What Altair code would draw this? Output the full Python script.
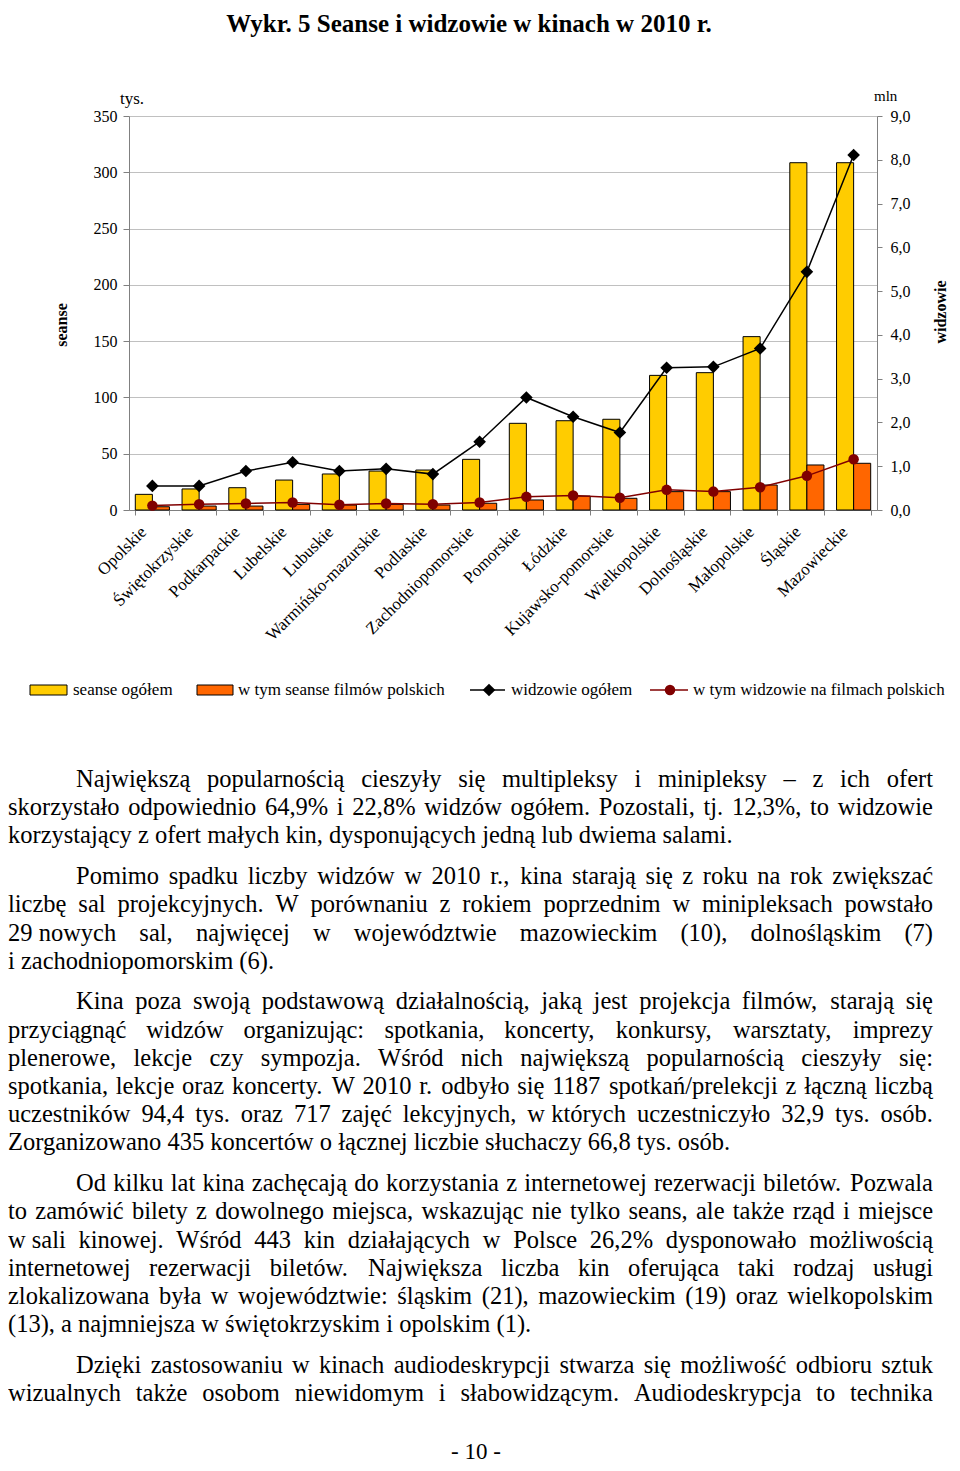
import altair as alt
import pandas as pd

# ---------------- data ----------------
regions = ["Opolskie", "Świętokrzyskie", "Podkarpackie", "Lubelskie", "Lubuskie",
           "Warmińsko-mazurskie", "Podlaskie", "Zachodniopomorskie", "Pomorskie",
           "Łódzkie", "Kujawsko-pomorskie", "Wielkopolskie", "Dolnośląskie",
           "Małopolskie", "Śląskie", "Mazowieckie"]
seanse_ogolem = [13.9, 18.7, 19.8, 26.6, 32.0, 34.6, 35.5, 45.0, 77.0,
                 79.3, 80.6, 119.6, 122.0, 154.0, 308.5, 308.5]
seanse_polskie = [2.9, 3.5, 3.5, 5.0, 4.4, 5.0, 4.4, 6.0, 8.9,
                  12.4, 10.4, 16.3, 16.3, 22.2, 40.0, 41.5]
widzowie_ogolem = [0.55, 0.55, 0.89, 1.09, 0.89, 0.94, 0.82, 1.56, 2.57,
                   2.13, 1.77, 3.25, 3.27, 3.69, 5.44, 8.11]
widzowie_polskie = [0.10, 0.13, 0.15, 0.17, 0.12, 0.15, 0.13, 0.17, 0.30,
                    0.33, 0.28, 0.46, 0.42, 0.52, 0.78, 1.16]

bar_series = ["seanse ogółem", "w tym seanse filmów polskich"]
line_series = ["widzowie ogółem", "w tym widzowie na filmach polskich"]
left_ticks = [0, 50, 100, 150, 200, 250, 300, 350]
right_ticks = [0, 1, 2, 3, 4, 5, 6, 7, 8, 9]

NB = "\u00a0"
title_text = "Wykr. 5 Seanse i widzowie w kinach  w 2010 r."
paragraphs = [
    ["Największą popularnością cieszyły się multipleksy i minipleksy – z ich ofert",
     "skorzystało odpowiednio 64,9% i 22,8% widzów ogółem. Pozostali, tj. 12,3%, to widzowie",
     "korzystający z ofert małych kin, dysponujących jedną lub dwiema salami."],
    ["Pomimo spadku liczby widzów w 2010 r., kina starają się z roku na rok zwiększać",
     "liczbę sal projekcyjnych. W porównaniu z rokiem poprzednim w minipleksach powstało",
     "29" + NB + "nowych sal, najwięcej w województwie mazowieckim (10), dolnośląskim (7)",
     "i zachodniopomorskim (6)."],
    ["Kina poza swoją podstawową działalnością, jaką jest projekcja filmów, starają się",
     "przyciągnąć widzów organizując: spotkania, koncerty, konkursy, warsztaty, imprezy",
     "plenerowe, lekcje czy sympozja. Wśród nich największą popularnością cieszyły się:",
     "spotkania, lekcje oraz koncerty. W 2010 r. odbyło się 1187 spotkań/prelekcji z łączną liczbą",
     "uczestników 94,4 tys. oraz 717 zajęć lekcyjnych, w" + NB + "których uczestniczyło 32,9 tys. osób.",
     "Zorganizowano 435 koncertów o łącznej liczbie słuchaczy 66,8 tys. osób."],
    ["Od kilku lat kina zachęcają do korzystania z internetowej rezerwacji biletów. Pozwala",
     "to zamówić bilety z dowolnego miejsca, wskazując nie tylko seans, ale także rząd i miejsce",
     "w" + NB + "sali kinowej. Wśród 443 kin działających w Polsce 26,2% dysponowało możliwością",
     "internetowej rezerwacji biletów. Największa liczba kin oferująca taki rodzaj usługi",
     "zlokalizowana była w województwie: śląskim (21), mazowieckim (19) oraz wielkopolskim",
     "(13), a najmniejsza w świętokrzyskim i opolskim (1)."],
    ["Dzięki zastosowaniu w kinach audiodeskrypcji stwarza się możliwość odbioru sztuk",
     "wizualnych także osobom niewidomym i słabowidzącym. Audiodeskrypcja to technika"],
]
page_number = "- 10 -"

# ---------------- tables ----------------
bars_df = pd.DataFrame({
    "region": regions * 2,
    "series": [bar_series[0]] * len(regions) + [bar_series[1]] * len(regions),
    "value": seanse_ogolem + seanse_polskie,
})
lines_df = pd.DataFrame({
    "region": regions * 2,
    "series": [line_series[0]] * len(regions) + [line_series[1]] * len(regions),
    "value": widzowie_ogolem + widzowie_polskie,
})

# Times / Liberation Serif advance widths (per 1000 em) for justified text layout
ADV = {" ": 250, NB: 250, "a": 444, "b": 500, "c": 444, "d": 500, "e": 444, "f": 333,
       "g": 500, "h": 500, "i": 278, "j": 278, "k": 500, "l": 278, "m": 778, "n": 500,
       "o": 500, "p": 500, "q": 500, "r": 333, "s": 389, "t": 278, "u": 500, "v": 500,
       "w": 722, "x": 500, "y": 500, "z": 444, "ą": 444, "ę": 444, "ó": 500, "ł": 278,
       "ś": 389, "ć": 444, "ń": 500, "ż": 444, "ź": 444,
       "A": 722, "B": 667, "C": 667, "D": 722, "E": 611, "F": 556, "G": 722, "H": 722,
       "I": 333, "J": 389, "K": 722, "L": 611, "M": 889, "N": 722, "O": 722, "P": 556,
       "R": 667, "S": 556, "Ś": 556, "T": 611, "U": 722, "W": 944, "Z": 611,
       ",": 250, ".": 250, ":": 278, ";": 278, "(": 333, ")": 333, "%": 833, "/": 278,
       "-": 333, "–": 500}

FONT = "Liberation Serif"
W, H = 748, 394
PSIZE = 24.5
P_LEFT, P_INDENT, P_RIGHT = -121, -53, 804


def tw(s):
    return sum(ADV.get(c, 500) for c in s) * PSIZE / 1000.0


word_rows = []
g = 0
for p, lines in enumerate(paragraphs):
    for i, t in enumerate(lines):
        yb = 671 + 28.2 * g + 12.5 * p
        x0 = P_INDENT if i == 0 else P_LEFT
        justify = (i < len(lines) - 1) or (p == len(paragraphs) - 1)
        if justify:
            words = t.split(" ")
            widths = [tw(w) for w in words]
            gap = (P_RIGHT - x0 - sum(widths)) / (len(words) - 1)
            xc = x0
            for k, (wd_text, wd) in enumerate(zip(words, widths)):
                last = k == len(words) - 1
                word_rows.append({"t": wd_text, "x": P_RIGHT if last else xc,
                                  "y": yb, "right": 1 if last else 0})
                xc += wd + gap
        else:
            word_rows.append({"t": t, "x": x0, "y": yb, "right": 0})
        g += 1
words_df = pd.DataFrame(word_rows)

x_enc = alt.X("region:N", sort=regions,
              scale=alt.Scale(paddingInner=0.27, paddingOuter=0.135),
              axis=alt.Axis(title=None, labelAngle=-45, labelAlign="right",
                            labelBaseline="middle", labelFont=FONT, labelFontSize=17,
                            labelColor="black", labelOffset=-9, labelPadding=14,
                            tickBand="extent", tickSize=5, tickColor="#808080",
                            domainColor="#808080", labelLimit=300))

bars = alt.Chart(bars_df).mark_bar(stroke="black", strokeWidth=1).encode(
    x=x_enc,
    xOffset=alt.XOffset("series:N", sort=bar_series,
                        scale=alt.Scale(domain=bar_series, paddingInner=0, paddingOuter=0)),
    y=alt.Y("value:Q", scale=alt.Scale(domain=[0, 350], nice=False),
            axis=alt.Axis(orient="left", title=None, values=left_ticks, grid=True,
                          gridColor="#c0c0c0", gridWidth=1, tickSize=6,
                          tickColor="#808080", domainColor="#808080",
                          labelFont=FONT, labelFontSize=16, labelColor="black",
                          labelPadding=6)),
    fill=alt.Fill("series:N", scale=alt.Scale(domain=bar_series,
                                              range=["#FFCC00", "#FF6600"]), legend=None),
)

y_right = alt.Y("value:Q", scale=alt.Scale(domain=[0, 9], nice=False),
                axis=alt.Axis(orient="right", title=None, values=right_ticks, grid=False,
                              tickSize=5, tickColor="#808080", domainColor="#808080",
                              labelFont=FONT, labelFontSize=16, labelColor="black",
                              labelPadding=8,
                              labelExpr="replace(format(datum.value, '.1f'), '.', ',')"))

lines = alt.Chart(lines_df).mark_line(strokeWidth=1.5).encode(
    x=alt.X("region:N", sort=regions),
    y=y_right,
    stroke=alt.Stroke("series:N", scale=alt.Scale(domain=line_series,
                                                  range=["black", "#800000"]), legend=None),
)
points = alt.Chart(lines_df).mark_point(filled=True, opacity=1).encode(
    x=alt.X("region:N", sort=regions),
    y=alt.Y("value:Q", scale=alt.Scale(domain=[0, 9], nice=False), axis=None),
    color=alt.Color("series:N", scale=alt.Scale(domain=line_series,
                                                range=["black", "#800000"]), legend=None),
    shape=alt.Shape("series:N", scale=alt.Scale(domain=line_series,
                                                range=["diamond", "circle"]), legend=None),
    size=alt.Size("series:N", scale=alt.Scale(domain=line_series, range=[160, 110]),
                  legend=None),
)

one = pd.DataFrame({"k": [0]})


def label(text, x, y, size=15, align="left", baseline="alphabetic", weight="normal",
          angle=0):
    return alt.Chart(pd.DataFrame({"t": [text]})).mark_text(
        font=FONT, fontSize=size, align=align, baseline=baseline,
        fontWeight=weight, angle=angle, color="black"
    ).encode(text="t:N", x=alt.value(x), y=alt.value(y))


texts = [
    label(title_text, 340, -84, size=25, align="center", weight="bold"),
    label("tys.", -9, -12, size=17),
    label("mln", 745, -15, size=15),
    label("seanse", -67, 209, size=16, align="center", baseline="middle",
          weight="bold", angle=270),
    label("widzowie", 812, 196, size=16, align="center", baseline="middle",
          weight="bold", angle=270),
]

# legend
LY = 574
leg = []
leg.append(alt.Chart(one).mark_rect(fill="#FFCC00", stroke="black", strokeWidth=1).encode(
    x=alt.value(-99), x2=alt.value(-62), y=alt.value(LY - 5), y2=alt.value(LY + 5)))
leg.append(label(bar_series[0], -56, LY, size=17, baseline="middle"))
leg.append(alt.Chart(one).mark_rect(fill="#FF6600", stroke="black", strokeWidth=1).encode(
    x=alt.value(68), x2=alt.value(104), y=alt.value(LY - 5), y2=alt.value(LY + 5)))
leg.append(label(bar_series[1], 109, LY, size=17, baseline="middle"))
leg.append(alt.Chart(one).mark_rule(color="black", strokeWidth=1.5).encode(
    x=alt.value(341), x2=alt.value(376), y=alt.value(LY)))
leg.append(alt.Chart(one).mark_point(filled=True, shape="diamond", size=160,
                                     color="black", opacity=1).encode(
    x=alt.value(360), y=alt.value(LY)))
leg.append(label(line_series[0], 382, LY, size=17, baseline="middle"))
leg.append(alt.Chart(one).mark_rule(color="#800000", strokeWidth=1.5).encode(
    x=alt.value(521), x2=alt.value(559), y=alt.value(LY)))
leg.append(alt.Chart(one).mark_point(filled=True, shape="circle", size=110,
                                     color="#800000", opacity=1).encode(
    x=alt.value(541), y=alt.value(LY)))
leg.append(label(line_series[1], 564, LY, size=17, baseline="middle"))

words_base = alt.Chart(words_df)
para_left = words_base.transform_filter("datum.right == 0").mark_text(
    font=FONT, fontSize=PSIZE, align="left", baseline="alphabetic", color="black"
).encode(text="t:N", x=alt.X("x:Q", scale=None, axis=None),
         y=alt.Y("y:Q", scale=None, axis=None))
para_right = words_base.transform_filter("datum.right == 1").mark_text(
    font=FONT, fontSize=PSIZE, align="right", baseline="alphabetic", color="black"
).encode(text="t:N", x=alt.X("x:Q", scale=None, axis=None),
         y=alt.Y("y:Q", scale=None, axis=None))

pnum = label(page_number, 347, 1343, size=23, align="center")

chart = alt.layer(bars, lines, points, *texts, *leg, para_left, para_right,
                  pnum).resolve_scale(
    y="independent", x="shared"
).properties(
    width=W, height=H,
    autosize=alt.AutoSizeParams(type="none"),
    padding={"left": 121, "top": 108, "right": 75, "bottom": 953},
    background="white",
).configure_view(stroke=None).configure_axis(labelFont=FONT)

chart.save("out.html", embed_options={"renderer": "svg", "actions": False})
